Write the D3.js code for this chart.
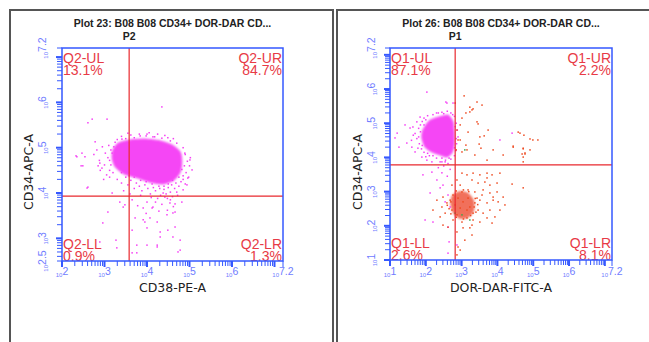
<!DOCTYPE html>
<html><head><meta charset="utf-8">
<script src="https://cdn.jsdelivr.net/npm/d3@7"></script>
<style>body{margin:0;background:#fff}svg{display:block}</style>
</head><body>
<svg id="c" width="649" height="342"></svg>
<script>
// ---------- DATA (values in log10 units) ----------
const plotTitles = ["Plot 23: B08 B08 CD34+ DOR-DAR CD...", "Plot 26: B08 B08 CD34+ DOR-DAR CD..."];
const gateNames = ["P2", "P1"];
const xAxisTitles = ["CD38-PE-A", "DOR-DAR-FITC-A"];
const yAxisTitles = ["CD34-APC-A", "CD34-APC-A"];
const xDomains = [[2, 7.2], [1, 7.2]];
const yDomains = [[2.5, 7.2], [1, 7.2]];
const xTickLabels = [["2","3","4","5","6","7.2"], ["1","2","3","4","5","6","7.2"]];
const yTickLabels = [["2.5","3","4","5","6","7.2"], ["1","2","3","4","5","6","7.2"]];
const xGates = [3.58, 2.82];
const yGates = [3.93, 3.78];
const quadNames = [["Q2-UL","Q2-UR","Q2-LL","Q2-LR"], ["Q1-UL","Q1-UR","Q1-LL","Q1-LR"]];
const quadPcts = [["13.1%","84.7%","0.9%","1.3%"], ["87.1%","2.2%","2.6%","8.1%"]];

// Plot 23 (P2) magenta population: dense core outline + individual events
const p2Core = [[3.20,4.95],[3.32,5.10],[3.60,5.17],[3.95,5.19],[4.31,5.15],[4.59,5.06],[4.78,4.91],[4.82,4.69],
  [4.78,4.46],[4.64,4.29],[4.38,4.20],[4.07,4.24],[3.79,4.33],[3.46,4.42],[3.25,4.58],[3.18,4.77]];
const p2Events = [[4.35,5.90],[2.71,5.63],[2.61,5.55],[3.06,5.63],[2.33,4.82],[2.54,4.80],[2.49,4.60],[2.45,4.60],
  [3.41,5.19],[3.84,5.26],[4.00,5.30],[4.49,5.22],[4.14,5.24],[2.78,5.13],[2.61,4.13],[3.18,4.00],[3.36,3.80],
  [3.44,3.69],[3.08,3.58],[2.96,3.34],[3.72,3.45],[3.95,3.36],[4.07,3.45],[4.31,3.14],[4.66,3.25],[4.78,2.96],
  [4.24,2.85],[3.76,2.85],[3.27,2.96],[4.73,2.70],[3.65,2.68],[3.91,3.67],[4.47,3.52],[4.54,3.78],[4.82,3.80],
  [4.42,3.91],[4.66,3.58],[4.14,3.69],[3.65,3.18],[2.89,2.92],[2.35,4.80],[2.47,4.88],[2.59,4.11],[2.89,4.66],
  [2.94,4.55],[3.48,3.74],[3.65,3.85],[3.91,3.41],[4.00,3.23],[4.12,3.67],[4.24,3.36],[4.31,3.03],[4.49,3.18],
  [4.61,3.56],[4.66,3.76],[4.85,4.07],[4.94,4.18],[4.96,4.33],[5.06,4.51],[5.01,4.73],[4.89,4.88],[4.61,3.03],
  [4.78,2.74],[3.76,2.68],[4.00,2.85],[3.29,2.79],[4.24,2.81],
  [2.75,4.85],[2.82,4.95],[2.88,4.72],[2.95,5.02],[3.00,4.62],[3.02,4.88],[3.08,4.78],[3.10,5.05],[3.12,4.50],
  [3.05,4.40],[2.90,4.50],[3.15,4.95],[2.98,4.30],[3.12,4.35],[3.20,4.45],[2.85,4.60],
  [3.25,5.12],[3.40,5.25],[3.50,5.20],[3.62,5.28],[3.70,5.22],[3.82,5.30],[3.98,5.26],[4.05,5.33],[4.18,5.24],
  [4.25,5.30],[4.35,5.21],[4.42,5.27],[4.55,5.15],[4.62,5.20],[3.30,5.18],[3.55,5.32],[4.70,5.10],
  [4.85,5.00],[4.90,4.85],[4.95,4.70],[4.88,4.60],[5.00,4.60],[4.92,4.45],[4.85,4.38],[4.98,4.35],[4.80,4.25],
  [4.90,4.20],[4.75,4.15],[5.02,4.78],[4.82,4.52],
  [3.30,4.30],[3.40,4.22],[3.50,4.35],[3.55,4.18],[3.62,4.28],[3.70,4.10],[3.75,4.22],[3.82,4.15],[3.88,4.05],
  [3.95,4.18],[4.02,4.10],[4.08,3.98],[4.15,4.12],[4.20,4.05],[4.28,4.15],[4.32,3.95],[4.40,4.08],[4.45,3.98],
  [4.50,4.12],[4.55,4.02],[4.60,3.92],[4.65,4.10],[4.70,4.02],[4.58,4.18],[4.38,4.00],[3.45,4.05],[3.60,3.98],
  [4.10,3.90],[4.25,3.88],[4.48,3.88],[4.72,3.95],
  [3.15,4.62],[3.18,4.88],[3.22,5.02],[3.12,4.72],[4.75,4.35],[4.68,4.22],[4.60,4.28],[4.50,4.20],[4.85,4.30],
  [4.40,4.15],[4.30,4.10],[4.12,4.20],[3.98,4.25],[3.85,4.28],[3.70,4.35],[3.58,4.38],[3.40,4.45],[4.20,3.80],
  [4.35,3.75],[4.55,3.85],[4.62,3.70],[4.00,3.80],[3.85,3.95],[3.78,3.72],[4.48,3.62],[4.28,3.60],[3.98,3.55]];

// Plot 26 (P1): magenta population (core outline + events), red population, a few green events
const p1MagentaCore = [[2.59,5.24],[2.12,5.09],[1.92,4.80],[1.89,4.57],[1.98,4.30],[2.17,4.16],[2.40,4.07],
  [2.59,4.01],[2.73,4.13],[2.79,4.36],[2.79,4.74],[2.76,5.04],[2.68,5.18]];
const p1MagentaEvents = [[2.03,5.91],[2.56,5.62],[2.76,5.59],[2.59,5.59],[1.20,4.71],[1.14,4.57],[1.25,4.30],[1.42,4.95],
  [1.56,4.86],[1.64,4.89],[1.75,5.04],[1.84,5.18],[1.47,4.42],[1.61,4.30],[1.70,4.16],[1.78,4.27],[1.89,4.01],
  [2.03,3.92],[2.17,3.87],[2.45,3.87],[2.40,3.87],[2.54,3.87],[1.92,3.49],[2.17,3.57],[2.31,3.34],[2.48,3.19],
  [2.40,3.11],[2.12,2.96],[2.62,2.90],[2.54,2.70],[2.68,2.55],[1.98,2.17],[2.20,2.11],[2.62,1.96],[2.65,1.53],
  [2.87,1.44],[2.62,1.20],[4.41,4.71],[4.07,4.51],
  [1.70,4.70],[1.75,4.55],[1.80,4.85],[1.82,4.40],[1.85,4.95],[1.90,5.05],[1.95,5.15],[2.05,5.22],[2.20,5.25],
  [2.30,5.30],[2.45,5.32],[2.60,5.35],[2.70,5.30],[2.80,5.20],[2.85,5.00],[2.88,4.80],[2.90,4.60],[2.86,4.40],
  [2.84,4.20],[2.80,4.05],[2.70,3.95],[2.55,3.92],[2.30,3.98],[2.10,4.05],[1.95,4.15],[1.88,4.25],[1.65,4.65],
  [1.60,4.50],[2.00,4.02],[2.62,3.82],[2.50,3.75],[2.35,3.70],[2.68,3.65],[2.45,3.55],[2.60,3.45],
  [1.80,4.60],[1.85,4.75],[1.95,4.95],[2.00,5.10],[2.35,5.30],[2.50,5.28],[2.75,5.25],[2.82,4.90],[2.85,4.55],
  [2.80,4.28],[2.65,3.98],[2.45,3.98],[2.20,4.05],[2.05,4.12],[1.90,4.35]];
const p1RedCore = [[2.74,2.88],[2.95,3.00],[3.18,2.95],[3.34,2.72],[3.33,2.42],[3.17,2.24],[2.95,2.22],[2.78,2.36],[2.70,2.62]];
const p1RedEvents = [[3.01,3.54],[3.15,3.49],[3.32,3.54],[3.51,3.49],[3.71,3.54],[3.85,3.49],[4.07,3.54],[3.29,3.34],
  [3.46,3.25],[3.65,3.28],[3.79,3.19],[3.99,3.25],[3.60,3.05],[3.79,2.96],[3.99,2.99],[4.16,2.84],[3.88,2.75],
  [3.71,2.67],[3.51,2.75],[3.37,2.99],[3.18,3.05],[3.01,2.99],[2.76,2.90],[2.68,2.75],[2.82,2.61],[2.73,2.46],
  [2.87,2.32],[2.76,2.17],[3.01,2.11],[3.15,2.23],[3.32,2.37],[3.46,2.46],[3.60,2.37],[3.79,2.46],[3.71,2.23],
  [3.51,2.11],[3.29,2.02],[3.04,1.94],[2.87,1.82],[2.62,1.96],[2.48,2.02],[2.40,2.26],[2.54,2.37],[2.45,2.55],
  [2.59,2.67],[2.31,2.75],[2.48,2.84],[2.20,2.46],[3.29,1.73],[3.09,1.58],[2.90,1.38],[3.23,1.94],[3.93,2.26],
  [4.07,2.46],[4.02,2.70],[4.21,2.61],[2.87,3.34],[2.73,3.19],[2.96,3.19],[3.18,2.81],[3.04,2.70],[3.23,2.55],
  [3.15,2.46],[2.96,2.52],[3.37,2.67],[3.43,2.81],[3.57,2.90],[2.90,2.81],[3.32,2.17],[3.85,2.08],[2.96,1.29],
  [2.87,1.15],[3.88,2.84],[3.71,3.40],[4.41,3.22],[4.72,3.11],
  [2.70,2.70],[2.65,2.50],[3.35,2.55],[3.38,2.80],[3.20,3.00],[2.85,3.02],[3.05,3.05],[3.25,2.30],[3.05,2.20],
  [2.85,2.25],[2.70,2.35],[3.40,2.40],[3.45,2.62],[2.60,2.60],
  [3.07,5.80],[3.57,5.53],[3.29,5.39],[3.23,5.33],[3.12,5.30],[3.43,5.04],[3.46,4.98],[3.74,4.80],[3.18,4.74],
  [4.58,4.74],[4.63,4.71],[4.99,4.51],[5.13,4.51],[3.51,4.60],[3.63,4.63],[3.49,4.39],[3.88,4.22],[4.16,4.07],
  [4.44,4.30],[4.72,4.27],[4.91,4.22],[4.77,4.10],[4.69,4.10],[4.72,3.87],[3.71,3.92],[3.54,4.27],[3.37,4.07],
  [3.15,4.22],[3.01,4.16],[3.12,4.36],[2.96,4.51],[3.23,5.47],[3.32,5.42],[3.43,5.62],[2.82,5.59],[4.74,4.65],
  [4.91,4.54],[4.44,4.33],[4.72,4.25],[4.77,4.13],[4.72,4.01],[2.87,4.80],[2.90,4.51],[2.85,4.22],[2.96,4.95],
  [3.01,5.15]];
const p1GreenEvents = [[3.01,2.32],[2.82,2.37],[3.09,4.22],[3.23,2.17]];

// ---------- DRAWING ----------
const svg = d3.select("#c");
const defs = svg.append("defs");
defs.append("filter").attr("id", "soft").attr("x", "-10%").attr("y", "-10%").attr("width", "120%").attr("height", "120%")
  .append("feGaussianBlur").attr("stdDeviation", 1.1);
const panels = [
  {frame:[10,10,323], plot:[62,283,48,261], yLabOff:14, yTitleX:33, core:[{pts:p2Core,c:"#f53ef5",o:0.95}],
   events:[{pts:p2Events,c:"#f53ef5"}]},
  {frame:[337,10,330], plot:[390,612,48,260], yLabOff:13, yTitleX:362,
   core:[{pts:p1MagentaCore,c:"#f53ef5",o:0.95},{pts:p1RedCore,c:"#ec3418",o:0.7}],
   events:[{pts:p1MagentaEvents,c:"#f53ef5"},{pts:p1RedEvents,c:"#ee4a20"},{pts:p1GreenEvents,c:"#3aa84a"}]}
];
const axisCol = "#3558ff", labCol = "#6f7cff", quadCol = "#e83a46", gateCol = "#e8282e";

panels.forEach((p, i) => {
  const [fx, fy, fw] = p.frame;
  svg.append("rect").attr("x", fx).attr("y", fy).attr("width", fw).attr("height", 400)
    .attr("fill", "none").attr("stroke", "#555").attr("stroke-width", 2);
  const [x0, x1, y0, y1] = p.plot;
  const x = d3.scaleLog().domain(xDomains[i].map(v => 10 ** v)).range([x0, x1]);
  const y = d3.scaleLog().domain(yDomains[i].map(v => 10 ** v)).range([y1, y0]);
  const g = svg.append("g");
  const cx = (x0 + x1) / 2;

  // titles
  g.append("text").attr("x", cx).attr("y", 27).attr("text-anchor", "middle")
    .attr("font-family", "Liberation Sans, Arial, sans-serif").attr("font-weight", "bold").attr("font-size", 10.5)
    .attr("fill", "#222").text(plotTitles[i]);
  g.append("text").attr("x", x(10 ** xGates[i])).attr("y", 40).attr("text-anchor", "middle")
    .attr("font-family", "Liberation Sans, Arial, sans-serif").attr("font-weight", "bold").attr("font-size", 10.5)
    .attr("fill", "#222").text(gateNames[i]);

  // data
  const clipId = "clip" + i;
  defs.append("clipPath").attr("id", clipId).append("rect").attr("x", x0).attr("y", y0).attr("width", x1 - x0).attr("height", y1 - y0);
  const dg = g.append("g").attr("clip-path", `url(#${clipId})`);
  const line = d3.line().x(d => x(10 ** d[0])).y(d => y(10 ** d[1])).curve(d3.curveCardinalClosed.tension(0.3));
  p.core.forEach(c => dg.append("path").attr("d", line(c.pts)).attr("fill", c.c).attr("stroke", c.c)
    .attr("stroke-width", 1).attr("opacity", c.o).attr("filter", "url(#soft)"));
  p.events.forEach(e => dg.selectAll(null).data(e.pts).join("rect")
    .attr("x", d => x(10 ** d[0]) - 0.75).attr("y", d => y(10 ** d[1]) - 0.75)
    .attr("width", 1.5).attr("height", 1.5).attr("fill", e.c));

  // gates
  const gx = x(10 ** xGates[i]), gy = y(10 ** yGates[i]);
  g.append("line").attr("x1", gx).attr("x2", gx).attr("y1", y0).attr("y2", y1).attr("stroke", gateCol).attr("stroke-width", 1.2);
  g.append("line").attr("x1", x0).attr("x2", x1).attr("y1", gy).attr("y2", gy).attr("stroke", gateCol).attr("stroke-width", 1.2);

  // quadrant labels
  const qpos = [[x0 + 1, y0 + 15, "start"], [x1 - 1, y0 + 15, "end"], [x0 + 1, y1 - 12.5, "start"], [x1 - 1, y1 - 12.5, "end"]];
  qpos.forEach((q, k) => {
    [quadNames[i][k], quadPcts[i][k]].forEach((t, l) => {
      g.append("text").attr("x", q[0]).attr("y", q[1] + l * 12).attr("text-anchor", q[2])
        .attr("font-family", "Liberation Sans, Arial, sans-serif").attr("font-size", 14)
        .attr("fill", quadCol).text(t);
    });
  });

  // box
  g.append("rect").attr("x", x0).attr("y", y0).attr("width", x1 - x0).attr("height", y1 - y0)
    .attr("fill", "none").attr("stroke", axisCol).attr("stroke-width", 1.5);

  // ticks
  const isMajor = v => Math.abs(Math.log10(v) - Math.round(Math.log10(v))) < 1e-6;
  const xt = x.ticks().filter(v => v >= x.domain()[0] && v <= x.domain()[1]).concat([x.domain()[1]]);
  g.selectAll(null).data(xt).join("line")
    .attr("x1", d => x(d)).attr("x2", d => x(d)).attr("y1", y1)
    .attr("y2", d => y1 + (isMajor(d) || d === x.domain()[1] ? 6 : 5))
    .attr("stroke", axisCol).attr("stroke-width", d => isMajor(d) ? 2 : 1);
  const yt = y.ticks().filter(v => v >= y.domain()[0] && v <= y.domain()[1]).concat([y.domain()[0], y.domain()[1]]);
  g.selectAll(null).data(yt).join("line")
    .attr("y1", d => y(d)).attr("y2", d => y(d)).attr("x1", x0)
    .attr("x2", d => x0 - (isMajor(d) ? 6 : 5))
    .attr("stroke", axisCol).attr("stroke-width", d => isMajor(d) ? 2 : 1);

  // tick labels
  const xl = xTickLabels[i].map(s => [10 ** (+s), s]);
  xl.forEach(([v, s]) => {
    const t = g.append("text").attr("x", x(v)).attr("y", 277).attr("text-anchor", "middle")
      .attr("font-family", "Liberation Sans, Arial, sans-serif").attr("fill", labCol);
    t.append("tspan").attr("font-size", 6).text("10");
    t.append("tspan").attr("font-size", 10.5).attr("dy", -2.5).text(s);
  });
  const yl = yTickLabels[i].map(s => [10 ** (+s), s]);
  yl.forEach(([v, s]) => {
    const tx = x0 - p.yLabOff, ty = y(v);
    const t = g.append("text").attr("transform", `translate(${tx},${ty}) rotate(-90)`).attr("text-anchor", "middle")
      .attr("font-family", "Liberation Sans, Arial, sans-serif").attr("fill", labCol);
    t.append("tspan").attr("font-size", 6).text("10");
    t.append("tspan").attr("font-size", 10.5).attr("dy", -2.5).text(s);
  });

  // axis titles
  g.append("text").attr("x", cx).attr("y", 292).attr("text-anchor", "middle")
    .attr("font-family", "DejaVu Sans, sans-serif").attr("font-size", 12.5).attr("fill", "#222").text(xAxisTitles[i]);
  g.append("text").attr("transform", `translate(${p.yTitleX},172) rotate(-90)`).attr("text-anchor", "middle")
    .attr("font-family", "DejaVu Sans, sans-serif").attr("font-size", 12.5).attr("fill", "#222").text(yAxisTitles[i]);
});
</script>
</body></html>
